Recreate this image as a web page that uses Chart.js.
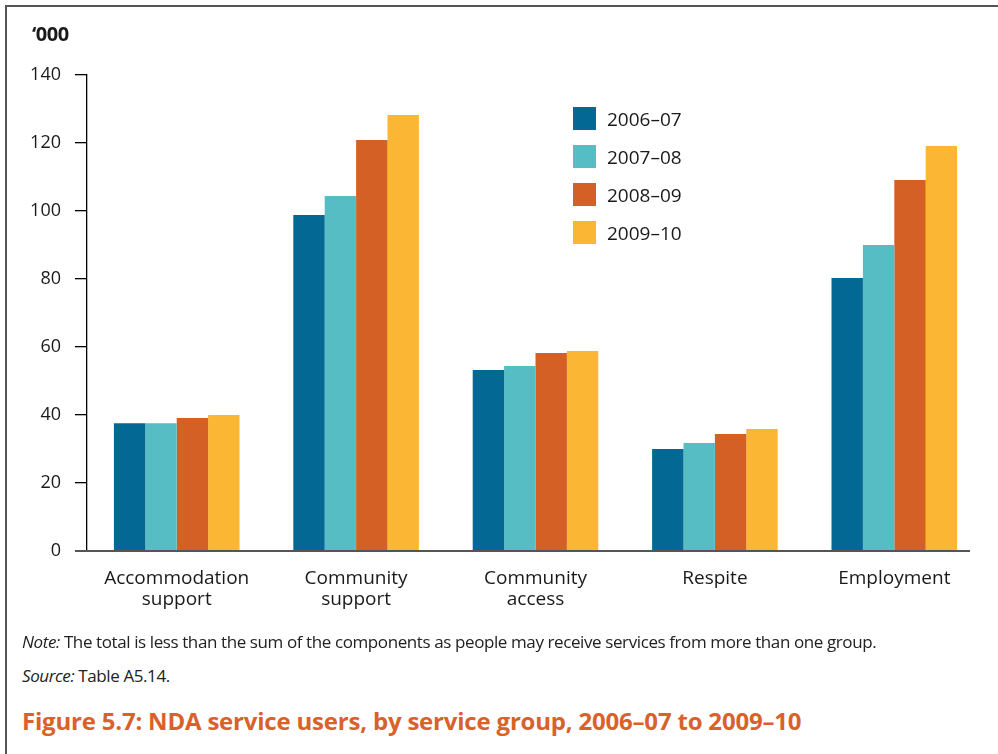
<!DOCTYPE html>
<html lang="en">
<head>
  <meta charset="UTF-8" />
  <title>Figure 5.7: NDA service users, by service group</title>
  <style>
    body {
      margin: 0;
      padding: 0;
      background: #fff;
      font-family: "Open Sans", sans-serif;
      color: #1a1a1a;
    }
    .page {
      position: relative;
      width: 998px;
      height: 754px;
      overflow: hidden;
    }
    .frame {
      position: absolute;
      left: 5px;
      top: 5px;
      right: -10px;
      bottom: -10px;
      border-top: 2px solid #555;
      border-left: 2px solid #555;
    }
    #chart {
      position: absolute;
      left: 0;
      top: 0;
    }
    .unit {
      position: absolute;
      left: 32px;
      top: 20px;
      font-weight: bold;
      font-size: 20px;
      letter-spacing: -0.5px;
    }
    .legend {
      position: absolute;
      left: 573px;
      top: 107px;
    }
    .legend-item {
      display: flex;
      align-items: center;
      height: 23px;
      margin-bottom: 15px;
      font-size: 19px;
    }
    .legend-item span {
      display: inline-block;
      width: 23px;
      height: 23px;
      margin-right: 11px;
    }
    .note {
      position: absolute;
      left: 22px;
      font-size: 17px;
      letter-spacing: -0.4px;
      color: #222;
      white-space: nowrap;
    }
    .title {
      position: absolute;
      left: 22px;
      top: 704px;
      font-size: 24px;
      font-weight: bold;
      color: #d9612a;
      letter-spacing: -0.2px;
      white-space: nowrap;
    }
  </style>
</head>
<body>
  <div class="page">
    <div class="frame"></div>
    <canvas id="chart" width="998" height="640"></canvas>
    <div class="unit">‘000</div>
    <div class="legend" id="legend"></div>
    <div class="note" style="top:630px"><i>Note:</i> The total is less than the sum of the components as people may receive services from more than one group.</div>
    <div class="note" style="top:664px"><i>Source:</i> Table A5.14.</div>
    <div class="title">Figure 5.7: NDA service users, by service group, 2006–07 to 2009–10</div>
  </div>

  <script src="https://cdn.jsdelivr.net/npm/chart.js"></script>

  <script>
    // service groups ('000 users)
    const categories = [
      ['Accommodation', 'support'],
      ['Community', 'support'],
      ['Community', 'access'],
      'Respite',
      'Employment'
    ];
    const years = ['2006–07', '2007–08', '2008–09', '2009–10'];
    const users0607 = [37.6, 98.8, 53.2, 30.0, 80.3];
    const users0708 = [37.6, 104.4, 54.4, 31.8, 90.0];
    const users0809 = [39.1, 120.9, 58.2, 34.4, 109.1];
    const users0910 = [40.0, 128.2, 58.8, 35.9, 119.1];
    const yTicks = [0, 20, 40, 60, 80, 100, 120, 140];

    const colors = ['#036893', '#55bdc3', '#d56025', '#fbb634'];
    const series = [users0607, users0708, users0809, users0910];

    // x axis line runs a bit past the y axis on both sides
    const baseLine = {
      id: 'baseLine',
      afterDatasetsDraw(chart) {
        const ctx = chart.ctx;
        const y = chart.scales.y.getPixelForValue(0);
        ctx.save();
        ctx.strokeStyle = '#555';
        ctx.lineWidth = 2;
        ctx.beginPath();
        ctx.moveTo(75, y);
        ctx.lineTo(970, y);
        ctx.stroke();
        ctx.restore();
      }
    };

    new Chart(document.getElementById('chart'), {
      type: 'bar',
      data: {
        labels: categories,
        datasets: years.map((yr, i) => ({
          label: yr,
          data: series[i],
          backgroundColor: colors[i],
          borderWidth: 0,
          categoryPercentage: 0.7,
          barPercentage: 1.0
        }))
      },
      options: {
        responsive: false,
        animation: false,
        layout: { padding: { left: 0, top: 75, right: 14, bottom: 0 } },
        plugins: {
          legend: { display: false },
          tooltip: { enabled: false }
        },
        scales: {
          x: {
            grid: { display: false },
            border: { display: false },
            ticks: {
              color: '#1a1a1a',
              font: { family: 'Open Sans', size: 19, lineHeight: 1.1 },
              padding: 9,
              maxRotation: 0,
              autoSkip: false
            },
            afterFit(scale) { scale.height = 89; }
          },
          y: {
            min: 0,
            max: 140,
            afterBuildTicks(scale) { scale.ticks = yTicks.map(v => ({ value: v })); },
            grid: {
              drawOnChartArea: false,
              color: '#000',
              lineWidth: 1.3,
              tickLength: 12
            },
            border: { color: '#000', width: 1.3 },
            ticks: {
              color: '#1a1a1a',
              font: { family: 'Open Sans', size: 18 },
              padding: 14
            },
            afterFit(scale) { scale.width = 87; }
          }
        }
      },
      plugins: [baseLine]
    });

    // legend built from the same series names and colours
    const legend = document.getElementById('legend');
    years.forEach((yr, i) => {
      const item = document.createElement('div');
      item.className = 'legend-item';
      item.innerHTML = `<span style="background:${colors[i]}"></span>${yr}`;
      legend.appendChild(item);
    });
  </script>
</body>
</html>
